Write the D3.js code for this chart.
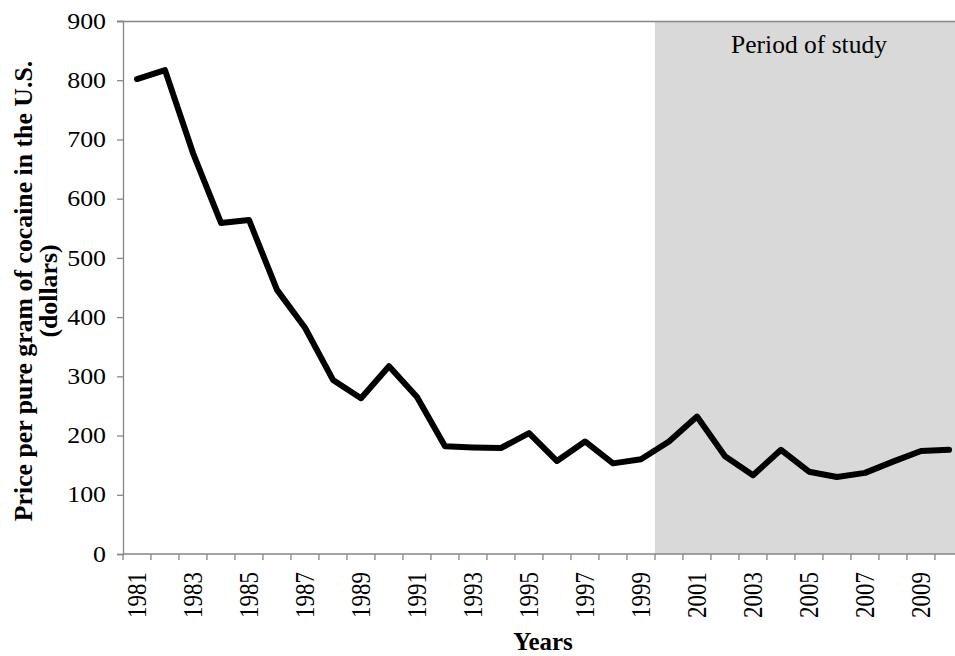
<!DOCTYPE html>
<html>
<head>
<meta charset="utf-8">
<script src="https://cdn.jsdelivr.net/npm/d3@7"></script>
<style>
  body { margin: 0; background: #fff; }
  text { font-family: "Liberation Serif", "Times New Roman", serif; }
</style>
</head>
<body>
<div id="chart"></div>
<script>
var svg_width = 955;
var svg_height = 656;
var margin = ({top: 21, right: -8, bottom: 102, left: 123});

// data
var years = d3.range(1981, 2011);
var prices = [802, 817, 677, 559, 564, 446, 382, 294, 263, 317,
              265, 182, 180, 179, 204, 157, 190, 153, 160, 190,
              232, 165, 133, 176, 139, 130, 137, 156, 174, 176];
var yTicks = [0, 100, 200, 300, 400, 500, 600, 700, 800, 900];
var labelYears = years.filter(d => d % 2 == 1);
var studyStart = 2000;

var axisColor = "#868686";
var stretch = 1.15; // the original text looks a bit wider than it is tall

var x = d3.scaleBand()
    .domain(years)
    .range([margin.left, svg_width - margin.right])
    .paddingInner(0)
    .paddingOuter(0);

var y = d3.scaleLinear()
    .domain([0, 900])
    .range([svg_height - margin.bottom, margin.top]);

const svg = d3.select("#chart")
    .append("svg")
    .attr("width", svg_width)
    .attr("height", svg_height);

// shaded period of study
svg.append("rect")
    .attr("x", x(studyStart))
    .attr("y", y(900))
    .attr("width", x.range()[1] - x(studyStart))
    .attr("height", y(0) - y(900))
    .attr("fill", "#d9d9d9");

svg.append("text")
    .attr("x", (x(studyStart) + x.range()[1]) / 2)
    .attr("y", 53)
    .attr("text-anchor", "middle")
    .attr("font-size", "25.5px")
    .attr("fill", "#000")
    .text("Period of study");

// top border
svg.append("line")
    .attr("x1", margin.left - 6)
    .attr("x2", svg_width)
    .attr("y1", y(900) + 0.5)
    .attr("y2", y(900) + 0.5)
    .attr("stroke", axisColor)
    .attr("stroke-width", 1.3);

// y axis
var yAxis = g => g
    .attr("transform", `translate(${margin.left},0)`)
    .call(d3.axisLeft(y).tickValues(yTicks).tickSize(6).tickPadding(11))
    .call(g => g.select(".domain").attr("stroke", axisColor).attr("stroke-width", 1.3))
    .call(g => g.selectAll(".tick line").attr("stroke", axisColor).attr("stroke-width", 1.3))
    .call(g => g.selectAll(".tick text")
        .attr("x", 0)
        .attr("transform", `translate(-17,0) scale(${stretch},1)`)
        .attr("font-size", "22.5px")
        .attr("fill", "#000"));
svg.append("g").call(yAxis);

// x axis: tick marks on band boundaries, labels on odd years
var xg = svg.append("g")
    .attr("transform", `translate(0,${y(0)})`);
xg.append("line")
    .attr("x1", margin.left)
    .attr("x2", x.range()[1])
    .attr("stroke", axisColor)
    .attr("stroke-width", 1.3);
var boundaries = years.map(d => x(d)).concat([x.range()[1]]);
xg.selectAll(".xtick")
    .data(boundaries)
    .join("line")
    .attr("class", "xtick")
    .attr("x1", d => d)
    .attr("x2", d => d)
    .attr("y1", 0)
    .attr("y2", 6)
    .attr("stroke", axisColor)
    .attr("stroke-width", 1.3);
xg.selectAll(".xlabel")
    .data(labelYears)
    .join("text")
    .attr("class", "xlabel")
    .attr("transform", d => `translate(${x(d) + x.bandwidth() / 2},18) rotate(-90) scale(1,${stretch})`)
    .attr("text-anchor", "end")
    .attr("dy", "0.35em")
    .attr("font-size", "23px")
    .attr("fill", "#000")
    .text(d => d);

// axis titles
svg.append("text")
    .attr("x", (margin.left + x.range()[1]) / 2)
    .attr("y", 650)
    .attr("text-anchor", "middle")
    .attr("font-size", "25px")
    .attr("font-weight", "bold")
    .text("Years");

var ytitle = svg.append("text")
    .attr("transform", "translate(0,291) rotate(-90)")
    .attr("text-anchor", "middle")
    .attr("font-size", "25.8px")
    .attr("font-weight", "bold");
ytitle.append("tspan").attr("x", 0).attr("y", 32).text("Price per pure gram of cocaine in the U.S.");
ytitle.append("tspan").attr("x", 0).attr("y", 57).text("(dollars)");

// price line
var line = d3.line()
    .x((d, i) => x(years[i]) + x.bandwidth() / 2)
    .y(d => y(d));

svg.append("path")
    .datum(prices)
    .attr("d", line)
    .attr("fill", "none")
    .attr("stroke", "#000")
    .attr("stroke-width", 6)
    .attr("stroke-linejoin", "round")
    .attr("stroke-linecap", "round");
</script>
</body>
</html>
